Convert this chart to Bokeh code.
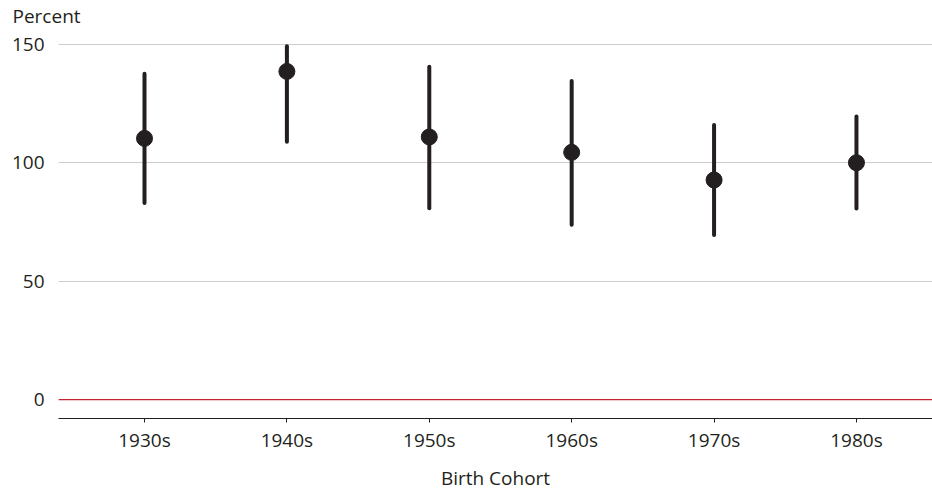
from bokeh.plotting import figure
from bokeh.models import Range1d, FixedTicker, Span, ColumnDataSource, Title
from bokeh.embed import file_html
from bokeh.resources import INLINE

cohorts = ["1930s", "1940s", "1950s", "1960s", "1970s", "1980s"]
estimate = [110.4, 138.7, 111.0, 104.5, 92.8, 100.1]
upper = [137.7, 149.3, 140.7, 134.7, 116.1, 119.6]
lower = [83.1, 109.0, 80.9, 73.9, 69.6, 80.8]
y_ticks = [0, 50, 100, 150]

FONT = "Open Sans"
TXT = "#231f20"

xs = list(range(len(cohorts)))
src = ColumnDataSource(dict(x=xs, est=estimate, hi=upper, lo=lower))

p = figure(width=932, height=496, output_backend="svg", toolbar_location=None,
           x_range=Range1d(-0.604, 5.534), y_range=Range1d(-8, 156),
           min_border_left=58, min_border_right=0, min_border_top=30, min_border_bottom=78)
p.outline_line_color = None
p.background_fill_color = "white"
p.border_fill_color = "white"

t = Title(text="Percent", align="left", vertical_align="top", text_font=FONT,
          text_font_size="19px", text_font_style="normal", text_color=TXT,
          standoff=0, offset=-46)
p.add_layout(t, "above")

p.xgrid.grid_line_color = None
p.ygrid.grid_line_color = "#cccccc"
p.ygrid.grid_line_width = 1
p.yaxis.ticker = FixedTicker(ticks=y_ticks)
p.yaxis.axis_line_color = None
p.yaxis.major_tick_line_color = None
p.yaxis.minor_tick_line_color = None
p.yaxis.major_tick_out = 0
p.yaxis.major_tick_in = 0
p.yaxis.major_label_standoff = 14
p.yaxis.major_label_text_font = FONT
p.yaxis.major_label_text_font_size = "19px"
p.yaxis.major_label_text_color = TXT

p.xaxis.ticker = FixedTicker(ticks=xs)
p.xaxis.major_label_overrides = {i: c for i, c in zip(xs, cohorts)}
p.xaxis.axis_line_color = TXT
p.xaxis.axis_line_width = 1
p.xaxis.major_tick_line_color = TXT
p.xaxis.major_tick_out = 4
p.xaxis.major_tick_in = 0
p.xaxis.minor_tick_line_color = None
p.xaxis.major_label_standoff = 4
p.xaxis.major_label_text_font = FONT
p.xaxis.major_label_text_font_size = "19px"
p.xaxis.major_label_text_color = TXT
p.xaxis.axis_label = "Birth Cohort"
p.xaxis.axis_label_text_font = FONT
p.xaxis.axis_label_text_font_size = "19px"
p.xaxis.axis_label_text_font_style = "normal"
p.xaxis.axis_label_text_color = TXT
p.xaxis.axis_label_standoff = 9

p.add_layout(Span(location=0, dimension="width", line_color="#c8202f", line_width=1.3))

p.segment(x0="x", y0="lo", x1="x", y1="hi", source=src, line_color=TXT,
          line_width=4, line_cap="round")
p.scatter(x="x", y="est", source=src, size=16, fill_color=TXT, line_color=TXT)

open("out.html", "w").write(file_html(p, INLINE))
